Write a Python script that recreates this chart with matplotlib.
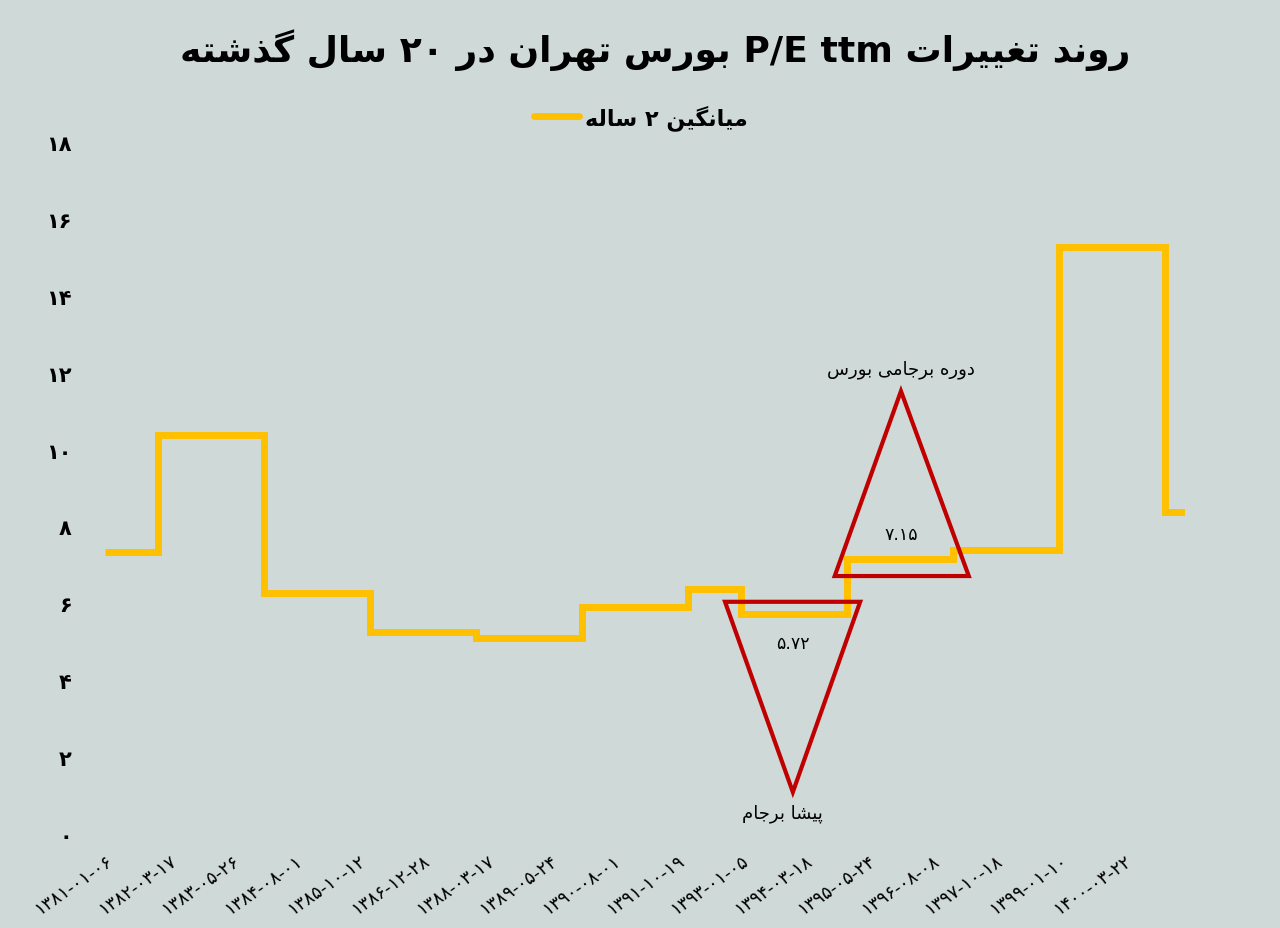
import matplotlib
matplotlib.use("Agg")
import matplotlib.pyplot as plt
from matplotlib.lines import Line2D

# ---- data ----
step_years = [1381, 1382, 1384, 1386, 1388, 1390, 1392, 1393, 1395, 1397, 1399, 1401, 1401.38]
pe_values = [7.34, 10.38, 6.27, 5.25, 5.10, 5.91, 6.37, 5.72, 7.15, 7.39, 15.27, 8.38]
tick_dates = ["1381-01-06", "1382-03-17", "1383-05-26", "1384-08-01", "1385-10-12",
              "1386-12-28", "1388-03-17", "1389-05-24", "1390-08-01", "1391-10-19",
              "1393-01-05", "1394-03-18", "1395-05-24", "1396-08-08", "1397-10-18",
              "1399-01-10", "1400-03-22"]
y_ticks = [0, 2, 4, 6, 8, 10, 12, 14, 16, 18]

title = "روند تغییرات P/E ttm بورس تهران در ۲۰ سال گذشته"
legend_label = "میانگین ۲ ساله"
pre_label = "پیشا برجام"
post_label = "دوره برجامی بورس"
pre_value = "۵.۷۲"
post_value = "۷.۱۵"

# triangles (year, value) drawn around the two periods
pre_tri = [(1392.70, 6.04), (1395.25, 6.04), (1393.98, 1.09)]
post_tri = [(1394.77, 6.71), (1397.30, 6.71), (1396.02, 11.52)]

BG = "#cfd9d7"
YELLOW = "#ffc000"
RED = "#c00000"

# ---- minimal Persian shaping (matplotlib has no RTL layout) ----
# letter: (isolated, final, initial, medial); None initial -> does not join forward
FORMS = {
    "ا": ("\uFE8D", "\uFE8E", None, None),
    "ب": ("\uFE8F", "\uFE90", "\uFE91", "\uFE92"),
    "پ": ("\uFB56", "\uFB57", "\uFB58", "\uFB59"),
    "ت": ("\uFE95", "\uFE96", "\uFE97", "\uFE98"),
    "ج": ("\uFE9D", "\uFE9E", "\uFE9F", "\uFEA0"),
    "د": ("\uFEA9", "\uFEAA", None, None),
    "ذ": ("\uFEAB", "\uFEAC", None, None),
    "ر": ("\uFEAD", "\uFEAE", None, None),
    "س": ("\uFEB1", "\uFEB2", "\uFEB3", "\uFEB4"),
    "ش": ("\uFEB5", "\uFEB6", "\uFEB7", "\uFEB8"),
    "غ": ("\uFECD", "\uFECE", "\uFECF", "\uFED0"),
    "گ": ("\uFB92", "\uFB93", "\uFB94", "\uFB95"),
    "ل": ("\uFEDD", "\uFEDE", "\uFEDF", "\uFEE0"),
    "م": ("\uFEE1", "\uFEE2", "\uFEE3", "\uFEE4"),
    "ن": ("\uFEE5", "\uFEE6", "\uFEE7", "\uFEE8"),
    "و": ("\uFEED", "\uFEEE", None, None),
    "ه": ("\uFEE9", "\uFEEA", "\uFEEB", "\uFEEC"),
    "ی": ("\uFBFC", "\uFBFD", "\uFBFE", "\uFBFF"),
}


def shape_word(w):
    out = []
    for i, ch in enumerate(w):
        if ch not in FORMS:
            out.append(ch)
            continue
        prev_j = i > 0 and w[i - 1] in FORMS and FORMS[w[i - 1]][2] is not None
        next_j = i < len(w) - 1 and w[i + 1] in FORMS and FORMS[ch][2] is not None
        iso, fin, ini, med = FORMS[ch]
        if prev_j and next_j:
            out.append(med)
        elif prev_j:
            out.append(fin)
        elif next_j:
            out.append(ini)
        else:
            out.append(iso)
    return "".join(out)[::-1]


def fa(s):
    runs = []
    for tok in s.split(" "):
        rtl = any(c in FORMS for c in tok)
        latin = any(c.isascii() and c.isalpha() for c in tok)
        if latin and runs and runs[-1][0] == "latin":
            runs[-1][1].append(tok)
        elif rtl:
            runs.append(("rtl", [shape_word(tok)]))
        else:
            runs.append(("latin" if latin else "num", [tok]))
    return " ".join(" ".join(r[1]) for r in runs[::-1])


def fa_digits(s):
    return str(s).translate(str.maketrans("0123456789", "۰۱۲۳۴۵۶۷۸۹"))


def jalali_to_year(d):
    y, m, dd = (int(p) for p in d.split("-"))
    doy = (m - 1) * 31 + dd if m <= 6 else 186 + (m - 7) * 30 + dd
    return y + doy / 365.0


plt.rcParams["font.family"] = ["DejaVu Sans"]

fig = plt.figure(figsize=(12.8, 9.29), dpi=100, facecolor=BG)
ax = fig.add_axes([105 / 1280, 94 / 929, 1080 / 1280, 692 / 929])
ax.set_facecolor(BG)

ax.plot(step_years, pe_values + [pe_values[-1]], drawstyle="steps-post",
        color=YELLOW, lw=5, solid_joinstyle="miter", solid_capstyle="butt", zorder=3)

for tri in (pre_tri, post_tri):
    ax.add_patch(plt.Polygon(tri, closed=True, fill=False, edgecolor=RED,
                             lw=3, joinstyle="miter", zorder=4))

ax.text(pre_tri[2][0], 4.97, pre_value, ha="center", va="center", fontsize=12.5, zorder=5)
ax.text(post_tri[2][0], 7.8, post_value, ha="center", va="center", fontsize=12.5, zorder=5)
ax.text(pre_tri[2][0] - 0.2, 0.55, fa(pre_label), ha="center", va="center", fontsize=13)
ax.text(post_tri[2][0], 12.1, fa(post_label), ha="center", va="center", fontsize=13)

ax.set_xlim(1381, 1401.38)
ax.set_ylim(0, 18)
for sp in ax.spines.values():
    sp.set_visible(False)

ax.set_yticks(y_ticks)
ax.set_yticklabels([fa_digits(v) for v in y_ticks], fontsize=15, fontweight="bold")
ax.set_xticks([jalali_to_year(d) for d in tick_dates])
ax.set_xticklabels([fa_digits(d) for d in tick_dates], rotation=35, ha="right",
                   rotation_mode="anchor", fontsize=13)
ax.tick_params(axis="y", length=0, pad=24)
ax.tick_params(axis="x", length=0, pad=12)

fig.text(655 / 1280, 1 - 50 / 929, fa(title), ha="center", va="center",
         fontsize=26, fontweight="bold")

handle = Line2D([], [], color=YELLOW, lw=5, solid_capstyle="round")
fig.legend([handle], [fa(legend_label)], loc="center",
           bbox_to_anchor=(641 / 1280, 1 - 118 / 929), frameon=False,
           handlelength=2.0, handletextpad=0.3,
           prop={"size": 16, "weight": "bold"})

fig.savefig("out.png", dpi=100, facecolor=BG)
